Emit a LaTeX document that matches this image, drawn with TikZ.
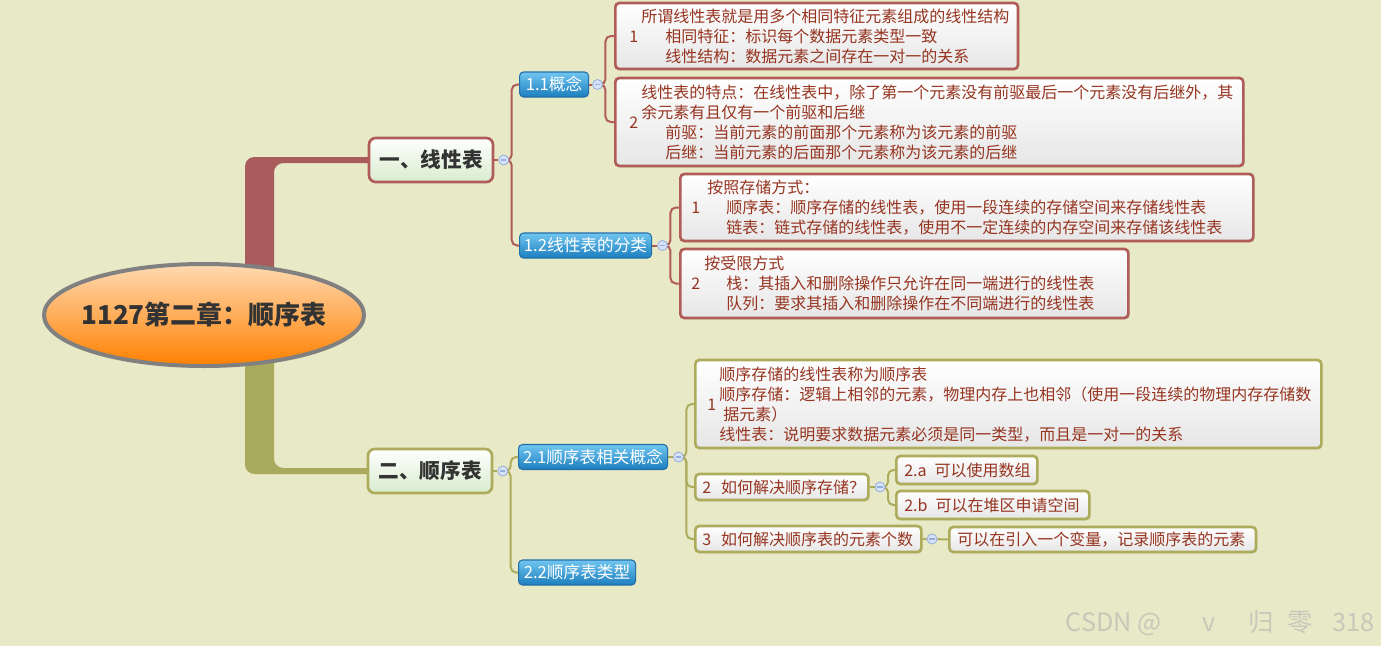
\documentclass[tikz,border=0pt]{standalone}
\usepackage{fontspec}
\setmainfont{Noto Sans CJK SC}
\usepackage{tikz}
\usetikzlibrary{positioning,shapes.geometric,backgrounds,shadows}
\definecolor{paper}{RGB}{232,233,198}
\definecolor{redline}{RGB}{176,92,88}
\definecolor{redtrunk}{RGB}{168,92,92}
\definecolor{oliveline}{RGB}{172,172,92}
\definecolor{olivetrunk}{RGB}{170,170,94}
\definecolor{leafink}{RGB}{150,52,32}
\definecolor{leafbot}{RGB}{230,230,230}
\definecolor{topicbot}{RGB}{216,236,206}
\definecolor{topicink}{RGB}{51,51,51}
\definecolor{subtop}{RGB}{112,198,240}
\definecolor{subbot}{RGB}{28,126,190}
\definecolor{subline}{RGB}{36,110,168}
\definecolor{roottop}{RGB}{255,218,178}
\definecolor{rootbot}{RGB}{255,128,0}
\definecolor{rootline}{RGB}{128,128,128}
\definecolor{dotfill}{RGB}{214,226,248}
\definecolor{dotline}{RGB}{150,174,220}
\definecolor{wmark}{RGB}{200,200,186}
\tikzset{
	x=0.75pt, y=-0.75pt,% one unit is one pixel of the screenshot, y runs downwards
	my edge/.style = {draw=#1, line width=1.5pt, rounded corners=4pt},
	my trunk/.style = {fill=#1, rounded corners=7pt} % the thick branch leaving the root
}
\newcommand{\ind}{\hspace{1.5em}}

\begin{document}
\begin{tikzpicture}
            \tikzset{my root/.style = {ellipse, draw=rootline, line width=3pt, top color=roottop, bottom color=rootbot, inner sep=0pt, minimum width=240pt, minimum height=76.5pt, text=topicink, font=\fontsize{19.5}{22}\selectfont\bfseries}}
            \tikzset{my topic/.style = {draw=#1, line width=2pt, rounded corners=5pt, top color=white, bottom color=topicbot, text=topicink, minimum width=93pt, minimum height=33pt, inner sep=0pt, font=\fontsize{15.5}{18}\selectfont\bfseries}}
            \tikzset{my sub/.style = {draw=subline, line width=0.8pt, rounded corners=3pt, top color=subtop, bottom color=subbot, text=white, anchor=west, minimum height=18.75pt, inner sep=0pt, font=\fontsize{12.5}{14}\selectfont}}
            \tikzset{my leaf/.style = {draw=#1, line width=2pt, rounded corners=3pt, top color=white, bottom color=leafbot, text=leafink, anchor=west, align=left, inner ysep=0pt, font=\fontsize{12}{15}\selectfont, drop shadow={opacity=0.2, shadow xshift=1pt, shadow yshift=-1pt}}}
            \tikzset{my dot/.style = {circle, draw=dotline, fill=dotfill, line width=0.6pt, inner sep=0pt, minimum size=7.5pt, path picture={\draw[dotline, line width=0.9pt] ([xshift=-2pt]path picture bounding box.center) -- ([xshift=2pt]path picture bounding box.center);}}}
            \useasboundingbox (0,0) rectangle (1381,646);
            % root and the two topics
            \node[my root] (root) at (204,315) {\makebox[0pt]{1127第二章：顺序表}};
            \node[my topic=redline] (t1) at (431,160) {一、线性表};
            \node[my topic=oliveline] (t2) at (430,471) {二、顺序表};
            \node[my dot, right=3pt of t1] (m1) {};
            \node[my dot, right=3pt of t2] (m2) {};
            % first topic
            \node[my sub, minimum width=51.75pt] (s11) at (519,84.5) {1.1概念};
            \node[my sub, minimum width=99pt] (s12) at (519,245.5) {1.2线性表的分类};
            \node[my dot, right=2.25pt of s11] (m11) {};
            \node[my dot, right=3.75pt of s12] (m12) {};
            \node[my leaf=redline, inner xsep=10.5pt, text width=281pt, minimum height=49.5pt, text depth=16.5pt] (a1) at (614,36) {\makebox[9pt][l]{1}\begin{tabular}[c]{@{}l@{}}所谓线性表就是用多个相同特征元素组成的线性结构\\ \ind 相同特征：标识每个数据元素类型一致\\ \ind 线性结构：数据元素之间存在一对一的关系\end{tabular}};
            \node[my leaf=redline, inner xsep=10.5pt, text width=450pt, minimum height=66pt, text depth=24pt] (a2) at (614,122) {\makebox[9pt][l]{2}\begin{tabular}[c]{@{}l@{}}线性表的特点：在线性表中，除了第一个元素没有前驱最后一个元素没有后继外，其\\余元素有且仅有一个前驱和后继\\ \ind 前驱：当前元素的前面那个元素称为该元素的前驱\\ \ind 后继：当前元素的后面那个元素称为该元素的后继\end{tabular}};
            \node[my leaf=redline, inner xsep=8.25pt, text width=413.25pt, minimum height=50.25pt, text depth=16.5pt] (b1) at (679,207.5) {\makebox[12pt][l]{1}\begin{tabular}[c]{@{}l@{}}按照存储方式：\\ \hspace{14.25pt}顺序表：顺序存储的线性表，使用一段连续的存储空间来存储线性表\\ \hspace{14.25pt}链表：链式存储的线性表，使用不一定连续的内存空间来存储该线性表\end{tabular}};
            \node[my leaf=redline, inner xsep=8.25pt, text width=319.5pt, minimum height=51.75pt, text depth=16.5pt] (b2) at (679,283.5) {\makebox[9.75pt][l]{2}\begin{tabular}[c]{@{}l@{}}按受限方式\\ \hspace{16.5pt}栈：其插入和删除操作只允许在同一端进行的线性表\\ \hspace{16.5pt}队列：要求其插入和删除操作在不同端进行的线性表\end{tabular}};
            % second topic
            \node[my sub, minimum width=111.75pt] (s21) at (518,457) {2.1顺序表相关概念};
            \node[my sub, minimum width=87.75pt] (s22) at (518,572.5) {2.2顺序表类型};
            \node[my dot, right=3.75pt of s21] (m21) {};
            \node[my leaf=oliveline, inner xsep=9pt, text width=451.5pt, minimum height=66pt, text depth=24pt] (c1) at (694,404) {\makebox[9pt][l]{1}\begin{tabular}[c]{@{}l@{}}顺序存储的线性表称为顺序表\\顺序存储：逻辑上相邻的元素，物理内存上也相邻（使用一段连续的物理内存存储数\\ \hspace{3pt}据元素）\\线性表：说明要求数据元素必须是同一类型，而且是一对一的关系\end{tabular}};
            \node[my leaf=oliveline, inner xsep=5.25pt, text width=119.25pt, minimum height=19.5pt] (c2) at (694,487) {\mbox{2\hspace{7.5pt}如何解决顺序存储？}};
            \node[my dot, right=3.75pt of c2] (mc2) {};
            \node[my leaf=oliveline, inner xsep=6pt, text width=93.75pt, minimum height=21pt] (c2a) at (895,470) {\mbox{2.a\hspace{6pt}可以使用数组}};
            \node[my leaf=oliveline, inner xsep=6pt, text width=132.75pt, minimum height=21pt] (c2b) at (895,505) {\mbox{2.b\hspace{6pt}可以在堆区申请空间}};
            \node[my leaf=oliveline, inner xsep=5.25pt, text width=159pt, minimum height=19.5pt] (c3) at (694,539) {\mbox{3\hspace{7.5pt}如何解决顺序表的元素个数}};
            \node[my dot, right=3pt of c3] (mc3) {};
            \node[my leaf=oliveline, inner xsep=6pt, text width=218pt, minimum height=18.75pt] (c4) at (948,539.5) {\mbox{可以在引入一个变量，记录顺序表的元素}};
            \node[anchor=east, text=wmark, font=\fontsize{19}{22}\selectfont] (wm) at (1379,623) {CSDN @\hspace{1.6em}v\hspace{1.3em}归\hspace{0.55em}零\hspace{0.75em}318};
            \begin{scope}[on background layer]
                \fill[paper] (0,0) rectangle (1381,646);
                \fill[my trunk=redtrunk] (245,300) |- ([yshift=2.25pt]t1.center) -- ([yshift=-2.25pt]t1.center) -| (274,300) -- cycle;
                \fill[my trunk=olivetrunk] (245,330) |- ([yshift=-2.25pt]t2.center) -- ([yshift=2.25pt]t2.center) -| (274,330) -- cycle;
                \draw[my edge=redline] (t1.east) -- (m1);
                \draw[my edge=redline] (m1.center) -- ++(8,0) |- (s11.west);
                \draw[my edge=redline] (m1.center) -- ++(8,0) |- (s12.west);
                \draw[my edge=redline] (s11.east) -- (m11);
                \draw[my edge=redline] (m11.center) -- ++(8,0) |- (a1.west);
                \draw[my edge=redline] (m11.center) -- ++(8,0) |- (a2.west);
                \draw[my edge=redline] (s12.east) -- (m12);
                \draw[my edge=redline] (m12.center) -- ++(8,0) |- (b1.west);
                \draw[my edge=redline] (m12.center) -- ++(8,0) |- (b2.west);
                \draw[my edge=oliveline] (t2.east) -- (m2);
                \draw[my edge=oliveline] (m2.center) -- ++(8,0) |- (s21.west);
                \draw[my edge=oliveline] (m2.center) -- ++(8,0) |- (s22.west);
                \draw[my edge=oliveline] (s21.east) -- (m21);
                \draw[my edge=oliveline] (m21.center) -- ++(8,0) |- (c1.west);
                \draw[my edge=oliveline] (m21.center) -- ++(8,0) |- (c2.west);
                \draw[my edge=oliveline] (m21.center) -- ++(8,0) |- (c3.west);
                \draw[my edge=oliveline] (c2.east) -- (mc2);
                \draw[my edge=oliveline] (mc2.center) -- ++(8,0) |- (c2a.west);
                \draw[my edge=oliveline] (mc2.center) -- ++(8,0) |- (c2b.west);
                \draw[my edge=oliveline] (c3.east) -- (mc3) -- (c4.west);
            \end{scope}
        \end{tikzpicture}
\end{document}
